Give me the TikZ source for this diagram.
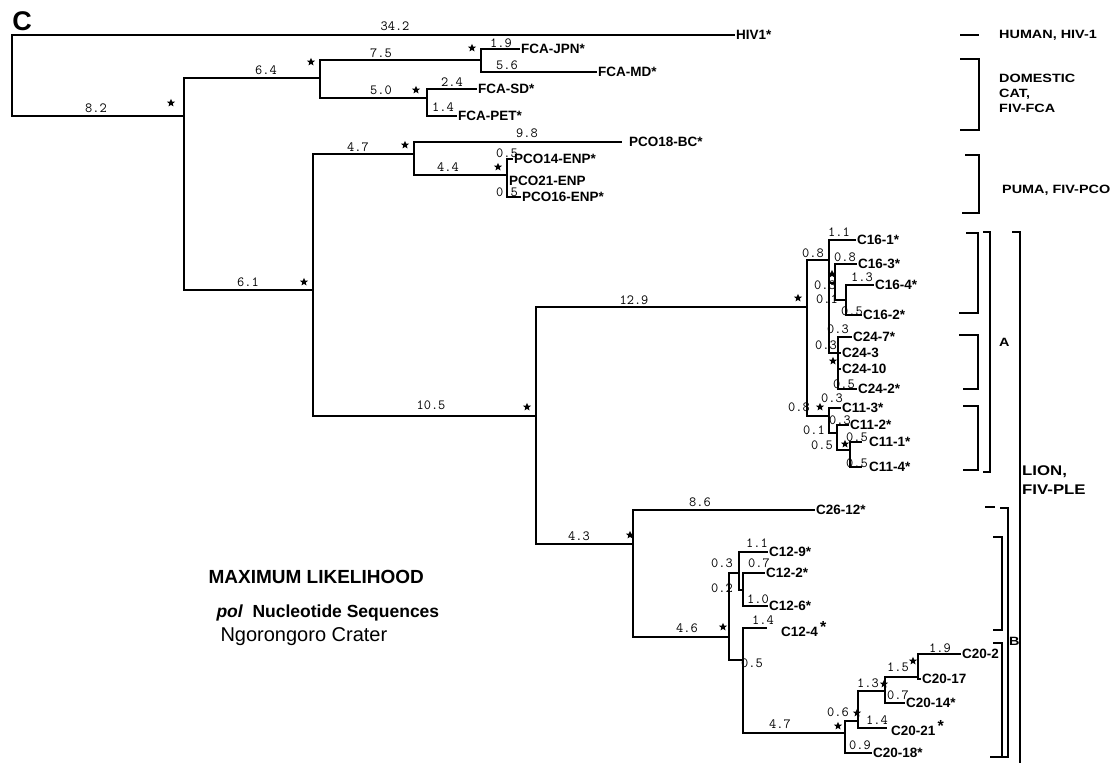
\documentclass[tikz,border=0pt]{standalone}
\usepackage{fontspec}
\setmainfont{Liberation Sans}
\newfontfamily\widefont[FakeStretch=1.2]{Liberation Sans}
\usetikzlibrary{shapes.geometric}
\tikzstyle{branch}=[line width=1.9pt]
\tikzstyle{leaf}=[anchor=west, inner sep=1pt, font=\fontsize{13.5}{13.5}\selectfont\bfseries]
\tikzstyle{blen}=[inner sep=0pt, font=\fontsize{14}{14}\selectfont\ttfamily]
\tikzstyle{boot}=[star, star points=5, star point ratio=2.3, fill=black, inner sep=0pt, minimum size=8.5pt]
\tikzstyle{host}=[anchor=west, inner sep=0pt, align=left, font=\fontsize{12}{15}\selectfont\widefont\bfseries]
\tikzstyle{brk}=[line width=1.6pt]
\newcommand{\bigast}{\,\raisebox{4pt}{\fontsize{16}{16}\selectfont *}}

\begin{document}
\begin{tikzpicture}[x=1pt,y=-1pt]
    \useasboundingbox (0,0) rectangle (1120,763);
    \node[font=\fontsize{27}{27}\selectfont\bfseries] (panel) at (22,21) {C};

    % internal nodes
    \coordinate (root) at (12,76);
    \coordinate (n1) at (184,116);
    \coordinate (n2) at (320,78);
    \coordinate (n3) at (481,60);
    \coordinate (n4) at (427,98);
    \coordinate (n5) at (313,290);
    \coordinate (n6) at (414,154);
    \coordinate (n7) at (507,175);
    \coordinate (n8) at (536,416);
    \coordinate (n9) at (807,307);
    \coordinate (n10) at (633,544);
    % lion, group A
    \coordinate (a1) at (829,260);
    \coordinate (a2) at (835,283);
    \coordinate (a3) at (846,300);
    \coordinate (a4) at (838,353);
    \coordinate (a5) at (829,416);
    \coordinate (a6) at (837,433);
    \coordinate (a7) at (850,450);
    % lion, group B
    \coordinate (b1) at (729,637);
    \coordinate (b2) at (739,573);
    \coordinate (b3) at (743,590);
    \coordinate (b4) at (743,660);
    \coordinate (b5) at (845,733);
    \coordinate (b6) at (858,721);
    \coordinate (b7) at (885,691);
    \coordinate (b8) at (918,677);
    % free branch tips
    \coordinate (t18) at (622,142);
    \coordinate (t111) at (862,442);
    \coordinate (t114) at (862,467);
    \coordinate (t124) at (767,628);
    \coordinate (t2021) at (887,728);

    % taxa
    \node[leaf] (hiv) at (735,35) {HIV1*};
    \node[leaf] (jpn) at (520,49) {FCA-JPN*};
    \node[leaf] (md) at (597,72) {FCA-MD*};
    \node[leaf] (sd) at (477,89) {FCA-SD*};
    \node[leaf] (pet) at (457,116) {FCA-PET*};
    \node[leaf] (pco18) at (628,142) {PCO18-BC*};
    \node[leaf] (pco14) at (513,159) {PCO14-ENP*};
    \node[leaf] (pco21) at (508,181) {PCO21-ENP};
    \node[leaf] (pco16) at (521,197) {PCO16-ENP*};
    \node[leaf] (c161) at (856,240) {C16-1*};
    \node[leaf] (c163) at (857,264) {C16-3*};
    \node[leaf] (c164) at (874,285) {C16-4*};
    \node[leaf] (c162) at (862,315) {C16-2*};
    \node[leaf] (c247) at (852,337) {C24-7*};
    \node[leaf] (c243) at (841,353) {C24-3};
    \node[leaf] (c2410) at (841,369) {C24-10};
    \node[leaf] (c242) at (857,389) {C24-2*};
    \node[leaf] (c113) at (841,408) {C11-3*};
    \node[leaf] (c112) at (849,425) {C11-2*};
    \node[leaf] (c111) at (868,442) {C11-1*};
    \node[leaf] (c114) at (868,467) {C11-4*};
    \node[leaf] (c2612) at (815,510) {C26-12*};
    \node[leaf] (c129) at (768,552) {C12-9*};
    \node[leaf] (c122) at (765,573) {C12-2*};
    \node[leaf] (c126) at (768,606) {C12-6*};
    \node[leaf] (c124) at (780,629) {C12-4\bigast};
    \node[leaf] (c2018) at (872,753) {C20-18*};
    \node[leaf] (c2021) at (890,728) {C20-21\bigast};
    \node[leaf] (c2014) at (905,703) {C20-14*};
    \node[leaf] (c202) at (961,654) {C20-2};
    \node[leaf] (c2017) at (921,679) {C20-17};

    % branches
    \draw[branch] (root) |- (hiv.west);
    \draw[branch] (root) |- (n1);
    \draw[branch] (n1) |- (n2);
    \draw[branch] (n2) |- (n3);
    \draw[branch] (n3) |- (jpn.west);
    \draw[branch] (n3) |- (md.west);
    \draw[branch] (n2) |- (n4);
    \draw[branch] (n4) |- (sd.west);
    \draw[branch] (n4) |- (pet.west);
    \draw[branch] (n1) |- (n5);
    \draw[branch] (n5) |- (n6);
    \draw[branch] (n6) |- (t18);
    \draw[branch] (n6) |- (n7);
    \draw[branch] (n7) |- (pco14.west);
    \draw[branch] (n7) |- (pco21.west);
    \draw[branch] (n7) |- (pco16.west);
    \draw[branch] (n5) |- (n8);
    \draw[branch] (n8) |- (n9);
    \draw[branch] (n8) |- (n10);
    \draw[branch] (n9) |- (a1);
    \draw[branch] (a1) |- (c161.west);
    \draw[branch] (a1) |- (a2);
    \draw[branch] (a2) |- (c163.west);
    \draw[branch] (a2) |- (a3);
    \draw[branch] (a3) |- (c164.west);
    \draw[branch] (a3) |- (c162.west);
    \draw[branch] (a1) |- (a4);
    \draw[branch] (a4) |- (c247.west);
    \draw[branch] (a4) |- (c243.west);
    \draw[branch] (a4) |- (c2410.west);
    \draw[branch] (a4) |- (c242.west);
    \draw[branch] (n9) |- (a5);
    \draw[branch] (a5) |- (c113.west);
    \draw[branch] (a5) |- (a6);
    \draw[branch] (a6) |- (c112.west);
    \draw[branch] (a6) |- (a7);
    \draw[branch] (a7) |- (t111);
    \draw[branch] (a7) |- (t114);
    \draw[branch] (n10) |- (c2612.west);
    \draw[branch] (n10) |- (b1);
    \draw[branch] (b1) |- (b2);
    \draw[branch] (b2) |- (c129.west);
    \draw[branch] (b2) |- (b3);
    \draw[branch] (b3) |- (c122.west);
    \draw[branch] (b3) |- (c126.west);
    \draw[branch] (b1) |- (b4);
    \draw[branch] (b4) |- (t124);
    \draw[branch] (b4) |- (b5);
    \draw[branch] (b5) |- (c2018.west);
    \draw[branch] (b5) |- (b6);
    \draw[branch] (b6) |- (t2021);
    \draw[branch] (b6) |- (b7);
    \draw[branch] (b7) |- (c2014.west);
    \draw[branch] (b7) |- (b8);
    \draw[branch] (b8) |- (c202.west);
    \draw[branch] (b8) |- (c2017.west);

    % branch lengths
    \foreach \x/\y/\t [count=\i] in {395/26/34.2, 96/108/8.2, 266/70/6.4, 381/53/7.5,
        501/43/1.9, 507/65/5.6, 381/90/5.0, 452/82/2.4, 443/107/1.4, 248/282/6.1,
        358/147/4.7, 527/133/9.8, 448/167/4.4, 507/153/0.5, 507/192/0.5,
        431/405/10.5, 634/300/12.9, 579/536/4.3,
        813/253/0.8, 839/232/1.1, 845/257/0.8, 825/285/0.3, 827/299/0.1,
        862/277/1.3, 852/311/0.5, 826/345/0.3, 838/329/0.3, 844/384/0.5,
        799/407/0.8, 832/398/0.3, 814/430/0.1, 840/420/0.3, 822/445/0.5,
        857/437/0.5, 857/463/0.5,
        700/502/8.6, 687/628/4.6, 757/543/1.1, 722/563/0.3, 759/563/0.7,
        722/588/0.2, 758/599/1.0, 763/620/1.4, 752/663/0.5, 780/724/4.7,
        860/745/0.9, 838/712/0.6, 877/720/1.4, 868/683/1.3, 898/695/0.7,
        898/667/1.5, 940/648/1.9}
        \node[blen] (len\i) at (\x,\y) {\t};

    % bootstrap stars
    \foreach \x/\y [count=\i] in {171/103, 311/62, 472/48, 416/90, 304/282,
        405/145, 498/167, 527/407, 798/298, 630/535, 832/274, 833/361,
        820/407, 845/444, 723/627, 838/726, 913/661, 857/713, 884/684}
        \node[boot] (bs\i) at (\x,\y) {};

    % hosts and groups
    \draw[brk] (960,35) -- (979,35);
    \node[host] (human) at (999,35) {HUMAN, HIV-1};
    \draw[brk] (960,59) -- (979,59) -- (979,130) -- (960,130);
    \node[host] (cat) at (999,93) {DOMESTIC\\CAT,\\FIV-FCA};
    \draw[brk] (965,155) -- (979,155) -- (979,213) -- (962,213);
    \node[host] (puma) at (1002,190) {PUMA, FIV-PCO};
    \draw[brk] (966,233) -- (978,233) -- (978,313) -- (959,313);
    \draw[brk] (959,335) -- (978,335) -- (978,389) -- (963,389);
    \draw[brk] (963,406) -- (978,406) -- (978,470) -- (963,470);
    \draw[brk] (983,232) -- (990,232) -- (990,472) -- (983,472);
    \node[host] (grpA) at (999,342) {A};
    \draw[brk] (1012,232) -- (1020,232) -- (1020,763);
    \node[host, font=\fontsize{14}{19}\selectfont\widefont\bfseries] (lion) at (1022,480) {LION,\\FIV-PLE};
    \draw[brk] (985,507) -- (995,507);
    \draw[brk] (1000,508) -- (1008,508) -- (1008,757) -- (998,757);
    \draw[brk] (993,537) -- (1002,537) -- (1002,630) -- (993,630);
    \draw[brk] (993,643) -- (1002,643) -- (1002,757) -- (990,757);
    \node[host] (grpB) at (1009,641) {B};

    % method
    \node[anchor=west, font=\fontsize{19}{19}\selectfont\bfseries] (method) at (205,577) {MAXIMUM LIKELIHOOD};
    \node[anchor=west, font=\fontsize{17.5}{17.5}\selectfont\bfseries] (seqs) at (213,613) {\itshape pol\upshape\ \ Nucleotide Sequences};
    \node[anchor=west, font=\fontsize{20}{20}\selectfont] (site) at (217,637) {Ngorongoro Crater};
\end{tikzpicture}
\end{document}
